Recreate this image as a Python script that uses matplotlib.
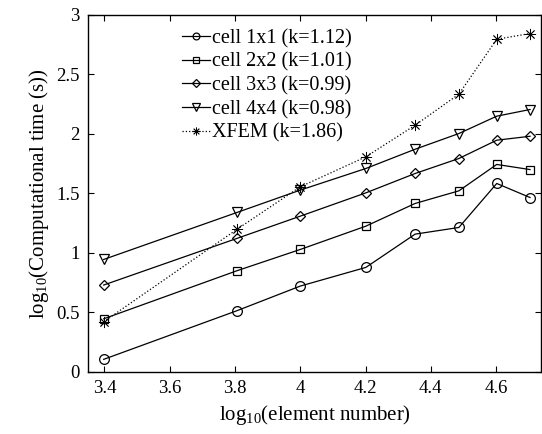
import matplotlib
matplotlib.use("Agg")
import matplotlib.pyplot as plt
from matplotlib.ticker import FormatStrFormatter

plt.rcParams["font.family"] = ["Liberation Serif", "DejaVu Serif"]
plt.rcParams["mathtext.fontset"] = "custom"
plt.rcParams["mathtext.rm"] = "Liberation Serif"
plt.rcParams["mathtext.it"] = "Liberation Serif:italic"

# log10 of element number
x_vals = [3.398, 3.806, 4.0, 4.201, 4.352, 4.486, 4.602, 4.704]

# log10 of computational time
cell_1x1 = [0.104, 0.513, 0.72, 0.877, 1.157, 1.213, 1.583, 1.465]
cell_2x2 = [0.445, 0.849, 1.028, 1.224, 1.415, 1.521, 1.743, 1.70]
cell_3x3 = [0.729, 1.121, 1.308, 1.504, 1.667, 1.793, 1.947, 1.98]
cell_4x4 = [0.944, 1.339, 1.527, 1.709, 1.871, 2.003, 2.149, 2.205]
xfem = [0.42, 1.197, 1.555, 1.807, 2.073, 2.334, 2.796, 2.844]

labels = [
    "cell 1x1 (k=1.12)",
    "cell 2x2 (k=1.01)",
    "cell 3x3 (k=0.99)",
    "cell 4x4 (k=0.98)",
    "XFEM (k=1.86)",
]
x_ticks = [3.4, 3.6, 3.8, 4.0, 4.2, 4.4, 4.6]
y_ticks = [0, 0.5, 1, 1.5, 2, 2.5, 3]

fig = plt.figure(figsize=(5.42, 4.34), dpi=100)
ax = fig.add_axes([0.1624, 0.1435, 0.836, 0.822])

series = [cell_1x1, cell_2x2, cell_3x3, cell_4x4]
markers = ["o", "s", "D", "v"]
sizes = [7, 6, 5.5, 7.5]
for ys, m, ms, lab in zip(series, markers, sizes, labels[:4]):
    ax.plot(x_vals, ys, color="black", linewidth=0.9, marker=m,
            markersize=ms, markerfacecolor="none",
            markeredgewidth=0.9, label=lab)
# MATLAB style asterisk (plus + cross)
ax.plot(x_vals, xfem, color="black", linewidth=0.9, linestyle=":",
        marker=(8, 2, 0), markersize=8, markeredgewidth=0.6,
        label=labels[4])

ax.set_xlim(3.35, 4.738)
ax.set_ylim(0, 3)
ax.set_xticks(x_ticks)
ax.set_yticks(y_ticks)
ax.xaxis.set_major_formatter(FormatStrFormatter("%g"))
ax.yaxis.set_major_formatter(FormatStrFormatter("%g"))
ax.tick_params(direction="in", top=True, right=True, length=4,
               width=0.8, labelsize=13.5, pad=6)
for sp in ax.spines.values():
    sp.set_linewidth(1.0)

ax.set_xlabel(r"log$_{10}$(element number)", fontsize=15)
ax.set_ylabel(r"log$_{10}$(Computational time (s))", fontsize=15)

leg = ax.legend(loc="upper left", bbox_to_anchor=(0.18, 0.995), frameon=False,
                fontsize=14.5, handlelength=1.4, handletextpad=0.1,
                labelspacing=0.22, markerscale=0.7, borderaxespad=0.2)

fig.savefig("out.png", dpi=100)
